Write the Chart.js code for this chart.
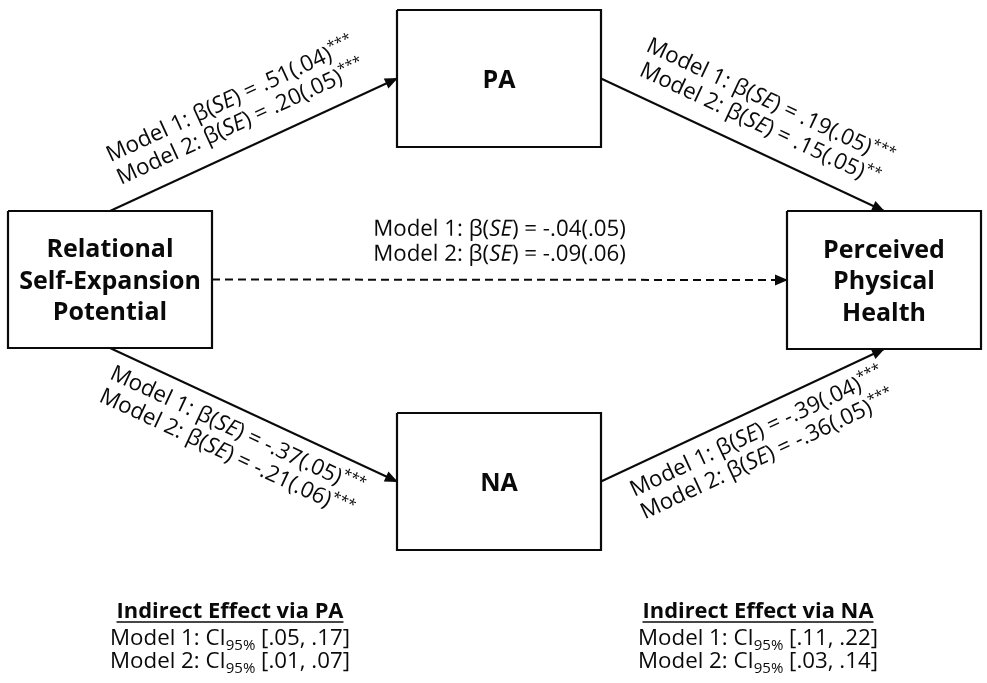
<!DOCTYPE html>
<html>
<head>
<meta charset="utf-8">
<script src="https://cdn.jsdelivr.net/npm/chart.js@4.4.1/dist/chart.umd.min.js"></script>
<style>
  html, body { margin: 0; padding: 0; background: #fff; }
  #wrap { width: 987px; height: 683px; }
  canvas { display: block; }
</style>
</head>
<body>
<div id="wrap"><canvas id="pathChart" width="987" height="683"></canvas></div>
<script>
// 🔹 DATA
const nodeLabels = [["Relational", "Self-Expansion", "Potential"], ["PA"], ["NA"], ["Perceived", "Physical", "Health"]];

// paths (from -> to), node index
const pathFrom = [0, 1, 0, 2, 0];
const pathTo = [1, 3, 2, 3, 3];

// Model 1 / Model 2 estimates
const beta1 = [".51", ".19", "-.37", "-.39", "-.04"];
const se1 = [".04", ".05", ".05", ".04", ".05"];
const sig1 = ["***", "***", "***", "***", ""];
const beta2 = [".20", ".15", "-.21", "-.36", "-.09"];
const se2 = [".05", ".05", ".06", ".05", ".06"];
const sig2 = ["***", "**", "***", "***", ""];

// indirect effects
const ciVia = ["PA", "NA"];
const ciModel1 = [[".05", ".17"], [".11", ".22"]];
const ciModel2 = [[".01", ".07"], [".03", ".14"]];

// 🔹 LAYOUT (canvas units)
const box = {
  cx: [110, 499, 499, 884],
  cy: [279.5, 78.5, 481.5, 280],
  w: [204, 204, 204, 194],
  h: [137, 137, 137, 138]
};
const anchors = [["top", "left"], ["right", "top"], ["bottom", "left"], ["right", "bottom"], ["right", "left"]];
const dashed = [false, false, false, false, true];
const labelSide = [-1, -1, 1, 1, -1];
const labelShift = [-2, 7, -8, 6, 0];
const ciPos = { x: [230, 758], y: [618, 645, 668] };

const FAM = "'Open Sans', 'Noto Sans', sans-serif";
const F = 22.3;  // edge / note text
const FS = 15;   // sup / sub
const FH = 21.9; // note heading
const FB = 25;   // node text
const INK = "#0a0a0a";

function anchor(i, side) {
  const x = box.cx[i], y = box.cy[i], w = box.w[i] / 2, h = box.h[i] / 2;
  if (side === "top") return { x: x, y: y - h };
  if (side === "bottom") return { x: x, y: y + h };
  if (side === "left") return { x: x - w, y: y };
  return { x: x + w, y: y };
}

function corners(i) {
  const x0 = box.cx[i] - box.w[i] / 2, x1 = box.cx[i] + box.w[i] / 2;
  const y0 = box.cy[i] - box.h[i] / 2, y1 = box.cy[i] + box.h[i] / 2;
  return [{ x: x0, y: y0 }, { x: x1, y: y0 }, { x: x1, y: y1 }, { x: x0, y: y1 }, { x: x0, y: y0 }];
}

// 🔹 DATASETS
const boxSets = nodeLabels.map((n, i) => ({
  label: "box" + i,
  data: corners(i),
  borderColor: INK,
  borderWidth: 2.2,
  borderJoinStyle: "miter"
}));

const pathSets = pathFrom.map((f, i) => ({
  label: "path" + i,
  data: [anchor(f, anchors[i][0]), anchor(pathTo[i], anchors[i][1])],
  borderColor: INK,
  borderWidth: 2,
  borderDash: dashed[i] ? [8, 5] : [],
  isPath: true
}));

// 🔹 TEXT HELPERS
function runFont(style) {
  if (style === "i") return "italic " + F + "px " + FAM;
  if (style === "b") return "bold " + FH + "px " + FAM;
  if (style === "sup" || style === "sub") return FS + "px " + FAM;
  return F + "px " + FAM;
}

function drawRuns(ctx, runs, x, y) {
  let total = 0;
  runs.forEach(r => { ctx.font = runFont(r[1]); total += ctx.measureText(r[0]).width; });
  let cx = x - total / 2;
  ctx.textAlign = "left";
  ctx.textBaseline = "alphabetic";
  runs.forEach(r => {
    ctx.font = runFont(r[1]);
    let dy = 0;
    if (r[1] === "sup") dy = -8;
    if (r[1] === "sub") dy = 5;
    ctx.fillText(r[0], cx, y + dy);
    cx += ctx.measureText(r[0]).width;
  });
  return total;
}

function modelRuns(m, b, se, sig) {
  return [["Model " + m + ": β(", "n"], ["SE", "i"], [") = " + b + "(" + se + ")", "n"], [sig, "sup"]];
}

// 🔹 PLUGINS
const arrowHeads = {
  id: "arrowHeads",
  afterDatasetsDraw(chart) {
    const ctx = chart.ctx;
    chart.data.datasets.forEach((ds, i) => {
      if (!ds.isPath) return;
      const pts = chart.getDatasetMeta(i).data;
      const a = pts[0], b = pts[1];
      const ang = Math.atan2(b.y - a.y, b.x - a.x);
      ctx.save();
      ctx.translate(b.x, b.y);
      ctx.rotate(ang);
      ctx.fillStyle = INK;
      ctx.beginPath();
      ctx.moveTo(1, 0);
      ctx.lineTo(-12, -5.5);
      ctx.lineTo(-12, 5.5);
      ctx.closePath();
      ctx.fill();
      ctx.restore();
    });
  }
};

const diagramText = {
  id: "diagramText",
  afterDraw(chart) {
    const ctx = chart.ctx;
    const sx = chart.scales.x, sy = chart.scales.y;
    ctx.save();
    ctx.fillStyle = INK;

    // node names
    nodeLabels.forEach((lines, i) => {
      const x = sx.getPixelForValue(box.cx[i]);
      const y = sy.getPixelForValue(box.cy[i]);
      ctx.font = "bold " + FB + "px " + FAM;
      ctx.textAlign = "center";
      ctx.textBaseline = "middle";
      lines.forEach((t, k) => {
        ctx.fillText(t, x, y + 2 + (k - (lines.length - 1) / 2) * 31.5);
      });
    });

    // path estimates
    chart.data.datasets.forEach((ds, di) => {
      if (!ds.isPath) return;
      const i = pathSets.indexOf(ds);
      const pts = chart.getDatasetMeta(di).data;
      const a = pts[0], b = pts[1];
      const ang = Math.atan2(b.y - a.y, b.x - a.x);
      ctx.save();
      ctx.translate((a.x + b.x) / 2, (a.y + b.y) / 2);
      ctx.rotate(ang);
      const ys = labelSide[i] < 0 ? [-44, -19] : [28, 53];
      drawRuns(ctx, modelRuns(1, beta1[i], se1[i], sig1[i]), labelShift[i], ys[0]);
      drawRuns(ctx, modelRuns(2, beta2[i], se2[i], sig2[i]), labelShift[i], ys[1]);
      ctx.restore();
    });

    // indirect effects
    ciVia.forEach((v, j) => {
      const x = sx.getPixelForValue(ciPos.x[j]);
      const y0 = sy.getPixelForValue(ciPos.y[0]);
      const w = drawRuns(ctx, [["Indirect Effect via " + v, "b"]], x, y0);
      ctx.strokeStyle = INK;
      ctx.lineWidth = 1.6;
      ctx.beginPath();
      ctx.moveTo(x - w / 2, y0 + 4);
      ctx.lineTo(x + w / 2, y0 + 4);
      ctx.stroke();
      drawRuns(ctx, [["Model 1: CI", "n"], ["95%", "sub"], [" [" + ciModel1[j][0] + ", " + ciModel1[j][1] + "]", "n"]], x, sy.getPixelForValue(ciPos.y[1]));
      drawRuns(ctx, [["Model 2: CI", "n"], ["95%", "sub"], [" [" + ciModel2[j][0] + ", " + ciModel2[j][1] + "]", "n"]], x, sy.getPixelForValue(ciPos.y[2]));
    });
    ctx.restore();
  }
};

const whiteBg = {
  id: "whiteBg",
  beforeDraw(chart) {
    const ctx = chart.ctx;
    ctx.save();
    ctx.fillStyle = "#fff";
    ctx.fillRect(0, 0, chart.width, chart.height);
    ctx.restore();
  }
};

// 🔹 CHART
new Chart(document.getElementById("pathChart"), {
  type: "scatter",
  data: { datasets: boxSets.concat(pathSets) },
  options: {
    responsive: false,
    animation: false,
    events: [],
    showLine: true,
    layout: { padding: 0 },
    elements: {
      point: { radius: 0, hoverRadius: 0 },
      line: { tension: 0, fill: false, borderCapStyle: "butt" }
    },
    scales: {
      x: { type: "linear", min: 0, max: 987, display: false },
      y: { type: "linear", min: 0, max: 683, reverse: true, display: false }
    },
    plugins: {
      legend: { display: false },
      tooltip: { enabled: false }
    }
  },
  plugins: [whiteBg, arrowHeads, diagramText]
});
</script>
</body>
</html>
